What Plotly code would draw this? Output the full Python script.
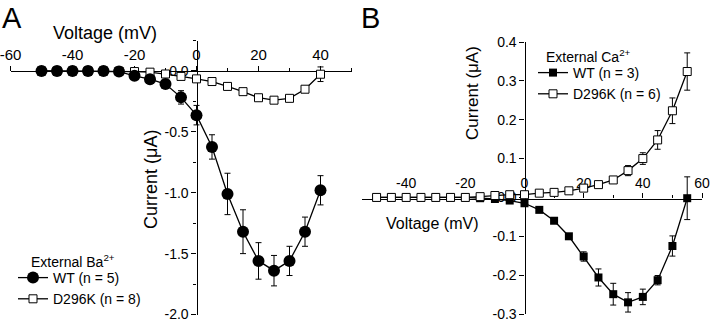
import plotly.graph_objects as go

# ---------------- data ----------------
# Panel A: External Ba2+
volt_A = [-50, -45, -40, -35, -30, -25, -20, -15, -10, -5, 0, 5, 10, 15, 20, 25, 30, 35, 40]
wt_A = [0, 0, 0, 0, 0, -0.005, -0.04, -0.068, -0.108, -0.217, -0.363, -0.624, -1.01, -1.32, -1.56, -1.64, -1.56, -1.32, -0.98]
wt_A_err = [0.005, 0.005, 0.005, 0.005, 0.005, 0.005, 0.01, 0.01, 0.02, 0.055, 0.08, 0.10, 0.17, 0.18, 0.15, 0.125, 0.12, 0.12, 0.12]
mut_A = [0, 0, 0, 0, 0, -0.002, -0.005, -0.01, -0.025, -0.045, -0.065, -0.087, -0.127, -0.17, -0.22, -0.24, -0.225, -0.15, -0.027]
mut_A_err = [0.005, 0.005, 0.005, 0.005, 0.005, 0.005, 0.005, 0.01, 0.015, 0.015, 0.02, 0.015, 0.015, 0.015, 0.015, 0.015, 0.015, 0.015, 0.06]

# Panel B: External Ca2+
volt_B = [-50, -45, -40, -35, -30, -25, -20, -15, -10, -5, 0, 5, 10, 15, 20, 25, 30, 35, 40, 45, 50, 55]
wt_B = [0, 0, 0, 0, 0, 0, 0, -0.002, -0.004, -0.008, -0.015, -0.032, -0.06, -0.10, -0.152, -0.206, -0.249, -0.27, -0.256, -0.213, -0.125, -0.002]
wt_B_err = [0.002, 0.002, 0.002, 0.002, 0.002, 0.002, 0.002, 0.003, 0.003, 0.003, 0.004, 0.004, 0.004, 0.005, 0.012, 0.022, 0.028, 0.025, 0.02, 0.012, 0.026, 0.055]
mut_B = [0, 0, 0, 0, 0, 0, 0, 0.002, 0.005, 0.007, 0.007, 0.011, 0.013, 0.017, 0.024, 0.033, 0.045, 0.069, 0.10, 0.148, 0.223, 0.324]
mut_B_err = [0.002, 0.002, 0.002, 0.002, 0.002, 0.002, 0.002, 0.004, 0.006, 0.006, 0.006, 0.006, 0.006, 0.006, 0.008, 0.005, 0.005, 0.013, 0.015, 0.024, 0.033, 0.048]

# tick labels
xA_ticks = [-60, -40, -20, 0, 20, 40]
xA_text = ["-60", "-40", "-20", "0", "20", "40"]
yA_ticks = [-2.0, -1.5, -1.0, -0.5, 0.0]
yA_text = ["-2.0", "-1.5", "-1.0", "-0.5", "0.0"]
xB_ticks = [-40, -20, 0, 20, 40, 60]
xB_text = ["-40", "-20", "0", "20", "40", "60"]
yB_ticks = [-0.3, -0.2, -0.1, 0.0, 0.1, 0.2, 0.3, 0.4]
yB_text = ["-0.3", "-0.2", "-0.1", "0.0", "0.1", "0.2", "0.3", "0.4"]

labels_A = ["WT (n = 5)", "D296K (n = 8)"]
labels_B = ["WT (n = 3)", "D296K (n = 6)"]

# ---------------- layout helpers ----------------
W, H = 710, 321
FONT = "Liberation Sans, Arial, sans-serif"


def px(x):
    return x / W


def py(y):
    return 1 - y / H


def err(a):
    return dict(type="data", array=a, color="black", thickness=1, width=3)


line = dict(color="black", width=1.3)

fig = go.Figure()

fig.add_trace(go.Scatter(
    x=volt_A, y=mut_A, error_y=err(mut_A_err), mode="lines+markers", name=labels_A[1],
    line=line, marker=dict(symbol="square", size=8, color="white", line=dict(color="black", width=1)),
    xaxis="x", yaxis="y", legend="legend", legendrank=2, cliponaxis=False))
fig.add_trace(go.Scatter(
    x=volt_A, y=wt_A, error_y=err(wt_A_err), mode="lines+markers", name=labels_A[0],
    line=line, marker=dict(symbol="circle", size=12, color="black"),
    xaxis="x", yaxis="y", legend="legend", legendrank=1, cliponaxis=False))

fig.add_trace(go.Scatter(
    x=volt_B, y=wt_B, error_y=err(wt_B_err), mode="lines+markers", name=labels_B[0],
    line=line, marker=dict(symbol="square", size=8, color="black"),
    xaxis="x2", yaxis="y2", legend="legend2", legendrank=1, cliponaxis=False))
fig.add_trace(go.Scatter(
    x=volt_B, y=mut_B, error_y=err(mut_B_err), mode="lines+markers", name=labels_B[1],
    line=line, marker=dict(symbol="square", size=8, color="white", line=dict(color="black", width=1)),
    xaxis="x2", yaxis="y2", legend="legend2", legendrank=2, cliponaxis=False))

axis_common = dict(showgrid=False, zeroline=False, showline=True, linecolor="black", linewidth=1.2,
                   ticks="outside", tickcolor="black", tickwidth=1.2, ticklen=5,
                   layer="below traces", tickmode="array", ticklabeloverflow="allow",
                   automargin=False)

fig.update_layout(
    width=W, height=H, margin=dict(l=0, r=0, t=0, b=0, autoexpand=False),
    paper_bgcolor="white", plot_bgcolor="white",
    font=dict(family=FONT, color="black"),
    showlegend=True,
    xaxis=dict(**axis_common, domain=[px(10.5), px(351.5)], range=[-60, 50], anchor="free",
               position=py(71), side="top", tickvals=xA_ticks, ticktext=xA_text,
               tickfont=dict(size=15),
               minor=dict(ticks="outside", ticklen=3, dtick=10, tick0=-60, tickcolor="black", tickwidth=1.2)),
    yaxis=dict(**axis_common, domain=[py(314.5), py(40.5)], range=[-2.0, 0.25], anchor="free",
               position=px(196.5), side="left", tickvals=yA_ticks, ticktext=yA_text,
               tickfont=dict(size=14),
               minor=dict(ticks="outside", ticklen=3, dtick=0.25, tick0=0, tickcolor="black", tickwidth=1.2)),
    xaxis2=dict(**axis_common, domain=[px(361.8), px(702)], range=[-55, 60], anchor="free",
                position=py(198.5), side="top", tickvals=xB_ticks, ticktext=xB_text,
                tickfont=dict(size=14),
                minor=dict(ticks="outside", ticklen=3, dtick=10, tick0=-50, tickcolor="black", tickwidth=1.2)),
    yaxis2=dict(**axis_common, domain=[py(314), py(42)], range=[-0.3, 0.4], anchor="free",
                position=px(524.5), side="left", tickvals=yB_ticks, ticktext=yB_text,
                tickfont=dict(size=14)),
    legend=dict(x=px(13), y=py(262), xanchor="left", yanchor="top", bgcolor="rgba(0,0,0,0)",
                font=dict(size=14), traceorder="normal", itemwidth=30, tracegroupgap=0),
    legend2=dict(x=px(533), y=py(57), xanchor="left", yanchor="top", bgcolor="rgba(0,0,0,0)",
                 font=dict(size=14), traceorder="normal", itemwidth=30, tracegroupgap=0),
)

ann = [
    dict(text="A", x=px(0), y=1, xanchor="left", yanchor="top", font=dict(size=29)),
    dict(text="B", x=px(359), y=1, xanchor="left", yanchor="top", font=dict(size=29)),
    dict(text="Voltage (mV)", x=px(105), y=py(33), xanchor="center", yanchor="middle", font=dict(size=18)),
    dict(text="Current (μA)", x=px(151), y=py(180), xanchor="center", yanchor="middle", textangle=-90,
         font=dict(size=18)),
    dict(text="External Ba<sup>2+</sup>", x=px(29), y=py(261), xanchor="left", yanchor="middle",
         font=dict(size=14)),
    dict(text="Voltage (mV)", x=px(432), y=py(223), xanchor="center", yanchor="middle", font=dict(size=16)),
    dict(text="Current (μA)", x=px(473), y=py(93), xanchor="center", yanchor="middle", textangle=-90,
         font=dict(size=17)),
    dict(text="External Ca<sup>2+</sup>", x=px(544), y=py(56), xanchor="left", yanchor="middle",
         font=dict(size=14)),
]
for a in ann:
    a.update(xref="paper", yref="paper", showarrow=False)
    a.setdefault("font", {})
    a["font"].update(family=FONT, color="black")
fig.update_layout(annotations=ann)

fig.write_html("out.html")
